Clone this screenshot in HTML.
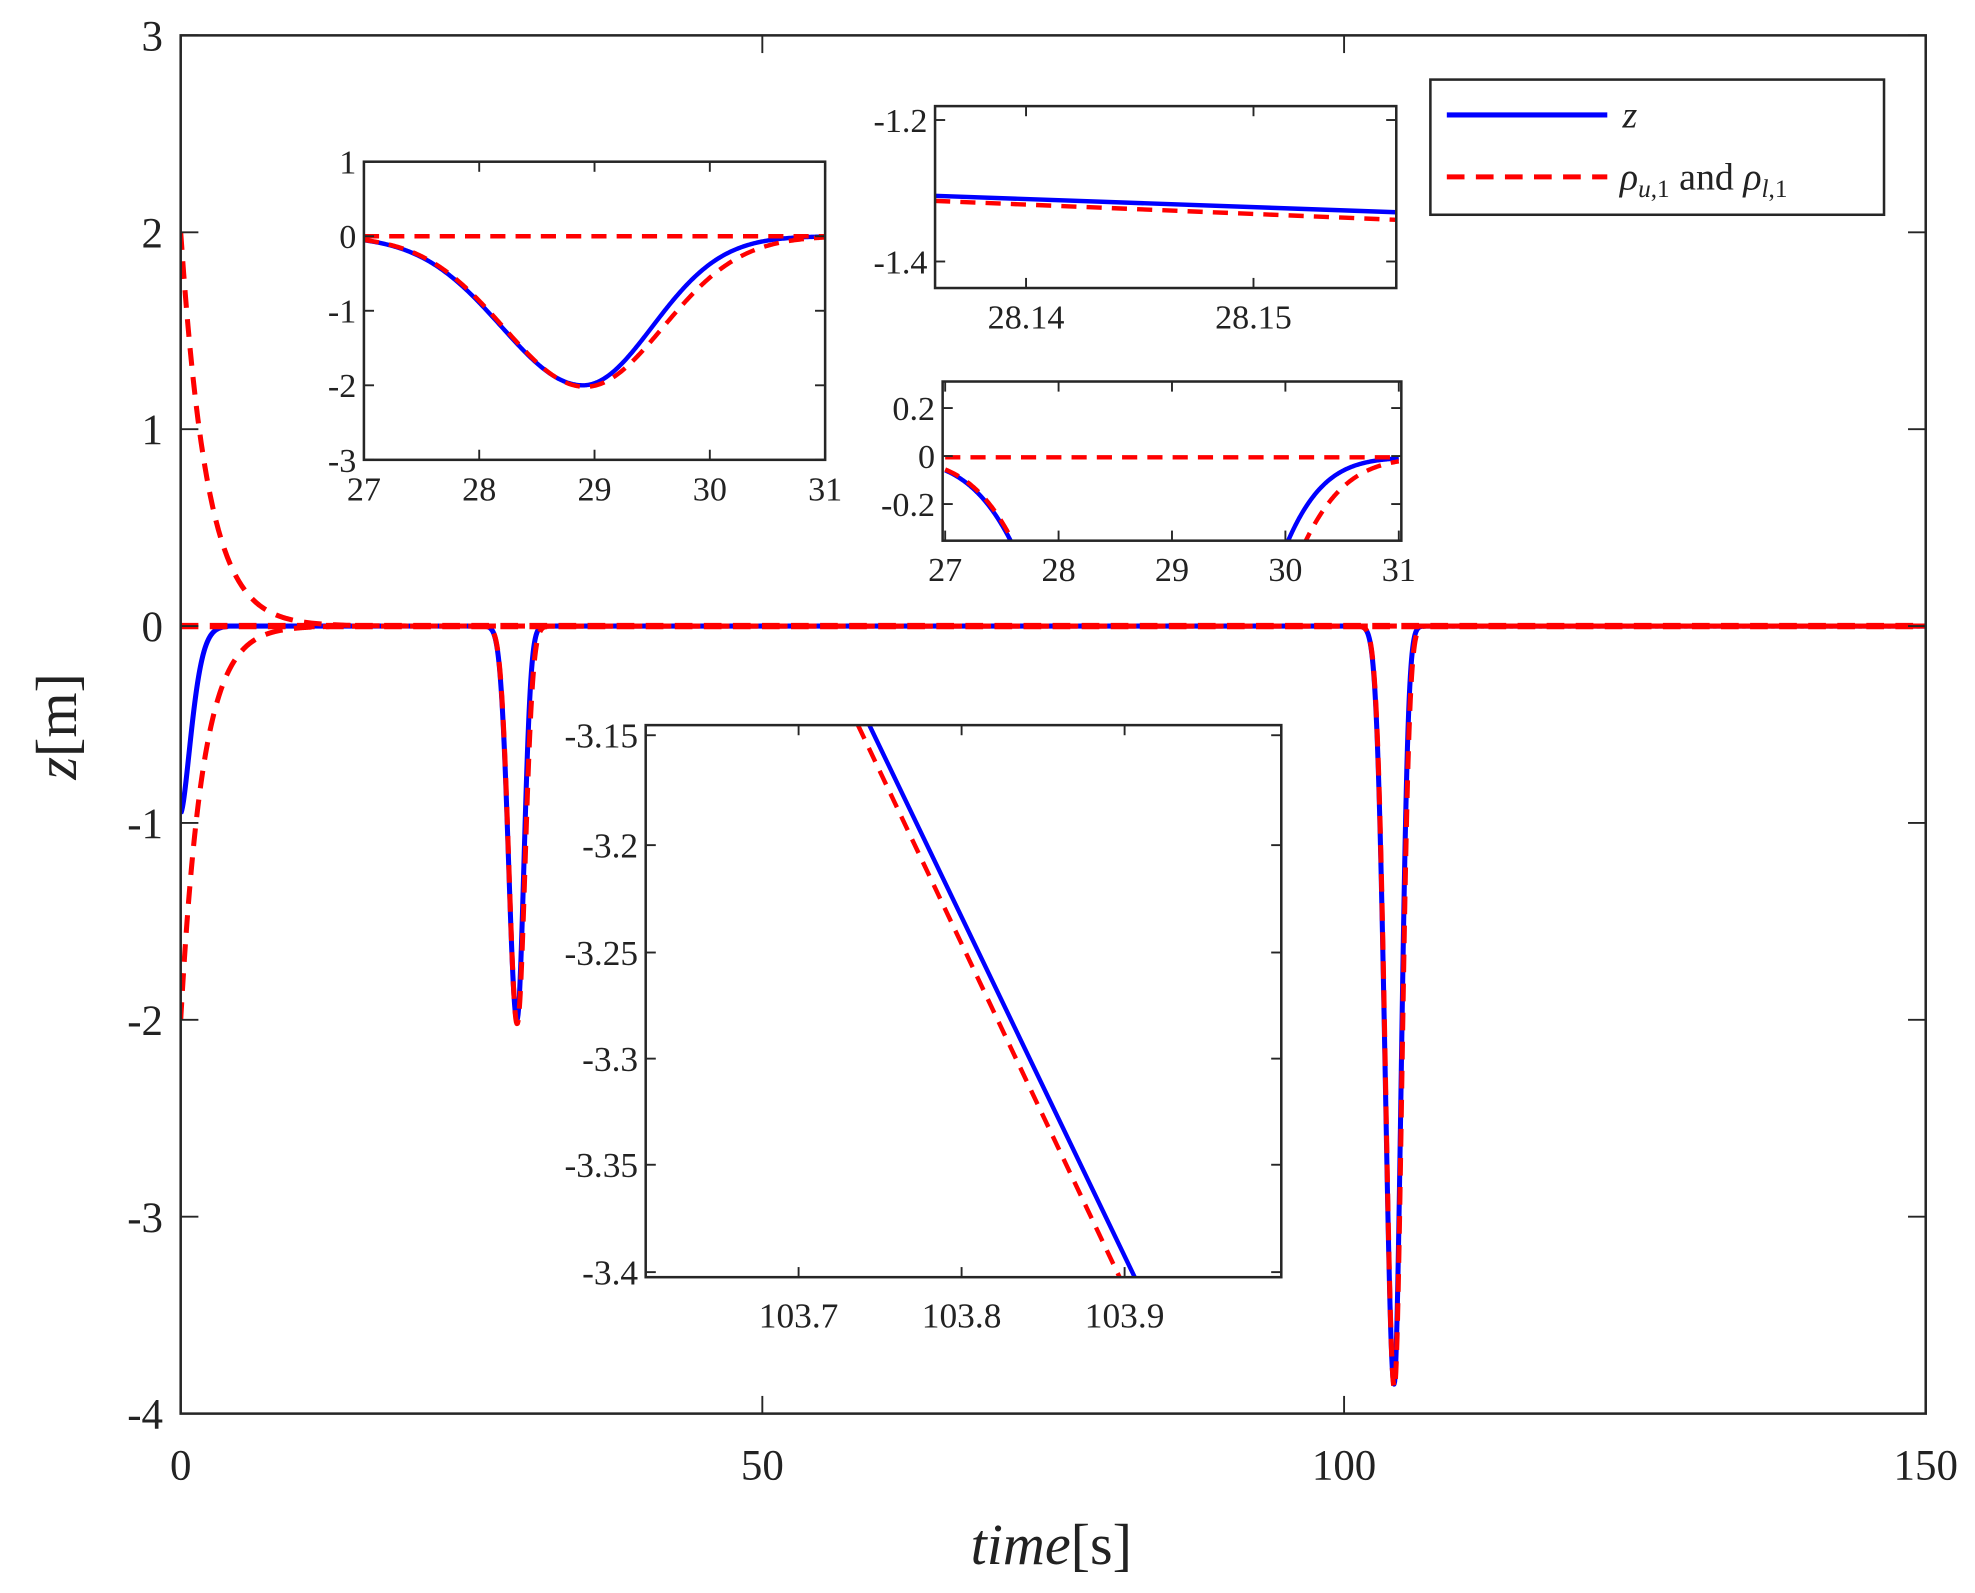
<!DOCTYPE html>
<html><head><meta charset="utf-8"><style>
html,body{margin:0;padding:0;background:#fff}
svg{display:block}
text{font-family:"Liberation Serif","DejaVu Serif",serif;fill:#222}
</style></head><body>
<svg id="s" width="1975" height="1593" viewBox="0 0 1563 1261" preserveAspectRatio="none" xmlns="http://www.w3.org/2000/svg">
<defs>
<clipPath id="c0"><rect x="143" y="28" width="1381" height="1091"/></clipPath>
<clipPath id="c1"><rect x="288" y="128" width="365" height="236"/></clipPath>
<clipPath id="c2"><rect x="740" y="84" width="365" height="144"/></clipPath>
<clipPath id="c3"><rect x="746" y="302" width="363" height="126"/></clipPath>
<clipPath id="c4"><rect x="511" y="574" width="503" height="437"/></clipPath>
</defs>
<rect width="1563" height="1261" fill="#fff"/>
<g id="g"></g>
</svg>
<script>
var g=document.getElementById('g');var NS='http://www.w3.org/2000/svg';
function el(t,a,txt){var e=document.createElementNS(NS,t);for(var k in a)e.setAttribute(k,a[k]);if(txt!==undefined)e.textContent=txt;g.appendChild(e);return e;}
function dip(t,c,A,wl,wr){var d=t-c;var w=d<0?wl:wr;return -A*Math.exp(-(d/w)*(d/w));}
function z(t){var v=-0.95*Math.exp(-Math.pow(t/1.3,1.6));if(t>4)v=0;v+=dip(t,28.9,2,1.0,0.85)+dip(t,104.3,3.85,1.05,0.85);return v;}
function lo(t){return -2*Math.exp(-t/1.9)+dip(t,28.92,2.02,1.0,0.95)+dip(t,104.32,3.87,1.05,0.9);}
function up(t){return 2*Math.exp(-t/2.3);}
function ax(x0,x1,y0,y1,t0,t1,v0,v1){return{X:function(t){return x0+(t-t0)/(t1-t0)*(x1-x0)},Y:function(v){return y1-(v-v0)/(v1-v0)*(y1-y0)}}}
function curve(A,f,t0,t1,n,clip,col,w,dash){var d='';for(var i=0;i<=n;i++){var t=t0+(t1-t0)*i/n;d+=(i?'L':'M')+A.X(t).toFixed(2)+','+A.Y(f(t)).toFixed(2);}
var a={d:d,fill:'none',stroke:col,'stroke-width':w,'clip-path':'url(#'+clip+')','stroke-linejoin':'round'};if(dash)a['stroke-dasharray']=dash;el('path',a);}
function bg(x0,y0,x1,y1){el('rect',{x:x0,y:y0,width:x1-x0,height:y1-y0,fill:'#fff',stroke:'none'});}
function frame(x0,y0,x1,y1,xt,yt,fs,tl,lx,ly){el('rect',{x:x0,y:y0,width:x1-x0,height:y1-y0,fill:'none',stroke:'#262626','stroke-width':2});
xt.forEach(function(p){el('line',{x1:p[0],y1:y1,x2:p[0],y2:y1-tl,stroke:'#262626','stroke-width':1.5});el('line',{x1:p[0],y1:y0,x2:p[0],y2:y0+tl,stroke:'#262626','stroke-width':1.5});el('text',{x:p[0],y:y1+(lx||fs*1.05),'font-size':fs,'text-anchor':'middle'},p[1]);});
yt.forEach(function(p){el('line',{x1:x0,y1:p[0],x2:x0+tl,y2:p[0],stroke:'#262626','stroke-width':1.5});el('line',{x1:x1,y1:p[0],x2:x1-tl,y2:p[0],stroke:'#262626','stroke-width':1.5});el('text',{x:x0-(ly||6),y:p[0]+fs*0.35,'font-size':fs,'text-anchor':'end'},p[1]);});}
var M=ax(143,1524,28,1119,0,150,-4,3);
curve(M,z,0,150,3000,'c0','#0000ff',4);
curve(M,function(){return 0},0,150,10,'c0','#ff0000',5,'14 9');
curve(M,up,0,150,600,'c0','#ff0000',4,'14 9');
curve(M,lo,0,150,3000,'c0','#ff0000',4,'14 9');
var xt=[[143,'0'],[603.3,'50'],[1063.7,'100'],[1524,'150']];var yt=[];for(var v=-4;v<=3;v++)yt.push([M.Y(v),String(v)]);
frame(143,28,1524,1119,xt,yt,34,14,52,14);
el('text',{x:832,y:1238,'font-size':46,'text-anchor':'middle'},'').innerHTML='<tspan font-style="italic">time</tspan>[s]';
var yl=el('text',{x:0,y:0,'font-size':46,'text-anchor':'middle',transform:'translate(60,575) rotate(-90)'});yl.innerHTML='<tspan font-style="italic">z</tspan>[m]';
var A1=ax(288,653,128,364,27,31,-3,1);bg(288,128,653,364);
curve(A1,z,27,31,400,'c1','#0000ff',3.5);curve(A1,function(){return 0},27,31,4,'c1','#ff0000',3.5,'12 8');curve(A1,lo,27,31,400,'c1','#ff0000',3.5,'12 8');
var t1=[];for(var i=27;i<=31;i++)t1.push([A1.X(i),String(i)]);var y1=[];for(var v=-3;v<=1;v++)y1.push([A1.Y(v),String(v)]);
frame(288,128,653,364,t1,y1,27,8,32);
bg(740,84,1105,228);
el('line',{x1:740,y1:155,x2:1105,y2:168,stroke:'#0000ff','stroke-width':3.5});
el('line',{x1:740,y1:159,x2:1105,y2:174,stroke:'#ff0000','stroke-width':3.5,'stroke-dasharray':'12 8'});
frame(740,84,1105,228,[[812,'28.14'],[992,'28.15']],[[95,'-1.2'],[207,'-1.4']],27,8,32);
var A3=ax(748,1107,302,428,27,31,-0.3474,0.316);bg(746,302,1109,428);
curve(A3,z,27,31,600,'c3','#0000ff',3.5);curve(A3,function(){return 0},27,31,4,'c3','#ff0000',3.5,'12 8');curve(A3,lo,27,31,600,'c3','#ff0000',3.5,'12 8');
var t3=[];for(var i=27;i<=31;i++)t3.push([748+(i-27)*89.75,String(i)]);
frame(746,302,1109,428,t3,[[323,'0.2'],[361,'0'],[399,'-0.2']],27,8,32);
bg(511,574,1014,1011);
el('line',{x1:688,y1:574,x2:898,y2:1011,stroke:'#0000ff','stroke-width':3.5});
el('line',{x1:679,y1:574,x2:886,y2:1011,stroke:'#ff0000','stroke-width':3.5,'stroke-dasharray':'12 8'});
frame(511,574,1014,1011,[[632,'103.7'],[761,'103.8'],[890,'103.9']],[[582,'-3.15'],[669,'-3.2'],[754,'-3.25'],[838,'-3.3'],[922,'-3.35'],[1007,'-3.4']],28,8,40);
el('rect',{x:1132,y:63,width:359,height:107,fill:'#fff',stroke:'#262626','stroke-width':2});
el('line',{x1:1145,y1:91,x2:1272,y2:91,stroke:'#0000ff','stroke-width':4});
el('line',{x1:1145,y1:140,x2:1272,y2:140,stroke:'#ff0000','stroke-width':4,'stroke-dasharray':'14 9'});
el('text',{x:1284,y:101,'font-size':30,'font-style':'italic'},'z');
var lt=el('text',{x:1282,y:150,'font-size':30});lt.innerHTML='<tspan font-style="italic">ρ</tspan><tspan font-size="20" dy="6" font-style="italic">u</tspan><tspan font-size="20">,1</tspan><tspan dy="-6"> and </tspan><tspan font-style="italic">ρ</tspan><tspan font-size="20" dy="6" font-style="italic">l</tspan><tspan font-size="20">,1</tspan>';
</script>
</body></html>
